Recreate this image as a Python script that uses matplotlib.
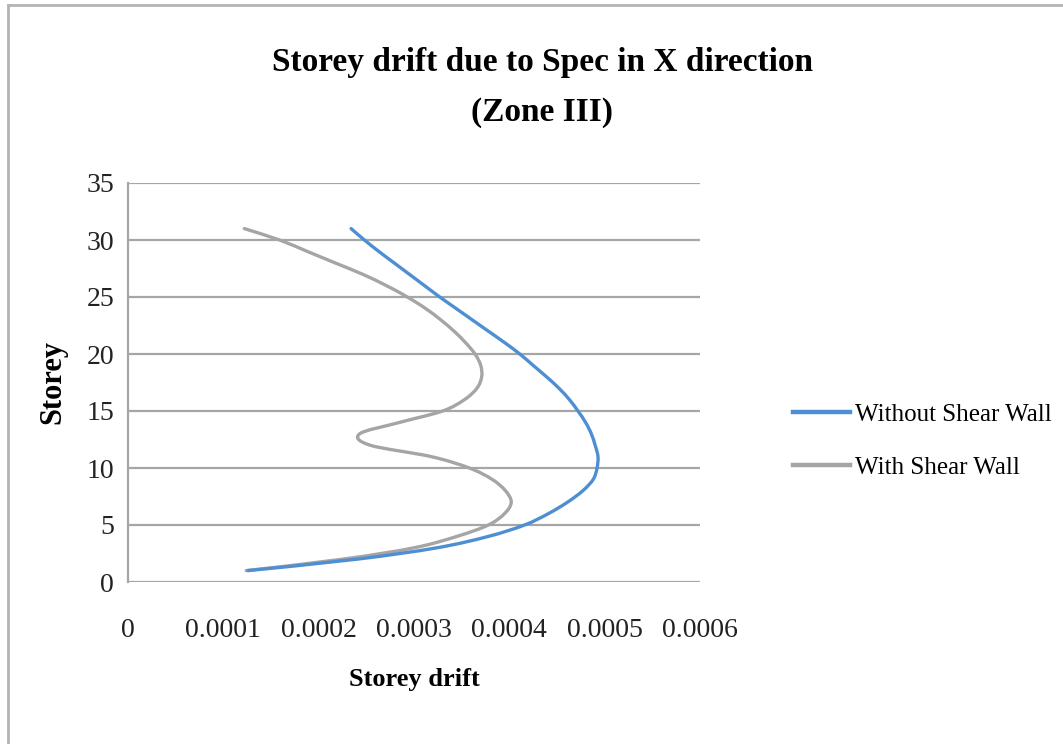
import numpy as np
import matplotlib
matplotlib.use("Agg")
import matplotlib.pyplot as plt
from matplotlib.path import Path
from matplotlib.patches import PathPatch
from matplotlib.lines import Line2D

plt.rcParams["font.family"] = ["Liberation Serif", "DejaVu Serif"]

storey = list(range(1, 32))
without_wall = [0.000126, 0.000240, 0.000324, 0.000378, 0.000416, 0.000441,
                0.000461, 0.000477, 0.000488, 0.000492, 0.000493, 0.000490,
                0.000486, 0.000480, 0.000472, 0.000463, 0.000452, 0.000439,
                0.000425, 0.000411, 0.000395, 0.000378, 0.000361, 0.000344,
                0.000327, 0.000311, 0.000295, 0.000279, 0.000263, 0.000248,
                0.000234]
with_wall = [0.000124, 0.000225, 0.000300, 0.000345, 0.000378, 0.000395,
             0.000402, 0.000396, 0.000382, 0.000358, 0.000318, 0.000254,
             0.000243, 0.000285, 0.000330, 0.000353, 0.000366, 0.000371,
             0.000370, 0.000364, 0.000354, 0.000342, 0.000328, 0.000312,
             0.000293, 0.000271, 0.000246, 0.000217, 0.000188, 0.000159,
             0.000122]
x_ticks = [0, 0.0001, 0.0002, 0.0003, 0.0004, 0.0005, 0.0006]
x_labels = ["0", "0.0001", "0.0002", "0.0003", "0.0004", "0.0005", "0.0006"]
y_ticks = [0, 5, 10, 15, 20, 25, 30, 35]

BLUE = "#4E8FD3"
GREY = "#A5A5A5"
GRID = "#A6A6A6"


def smooth_path(xs, ys):
    # Catmull-Rom segments as cubic Beziers, like a spreadsheet "smoothed line"
    pts = np.column_stack([xs, ys]).astype(float)
    n = len(pts)
    verts = [pts[0]]
    codes = [Path.MOVETO]
    for i in range(n - 1):
        p0 = pts[max(i - 1, 0)]
        p1, p2 = pts[i], pts[i + 1]
        p3 = pts[min(i + 2, n - 1)]
        c1 = p1 + (p2 - p0) / 6.0
        c2 = p2 - (p3 - p1) / 6.0
        verts += [c1, c2, p2]
        codes += [Path.CURVE4] * 3
    return Path(verts, codes)


fig = plt.figure(figsize=(10.63, 7.44), dpi=100)
ax = fig.add_axes([128 / 1063, 1 - 582 / 744, (700 - 128) / 1063, (582 - 183) / 744])

for xs, color in [(with_wall, GREY), (without_wall, BLUE)]:
    ax.add_patch(PathPatch(smooth_path(xs, storey), fc="none", ec=color,
                           lw=2.4, capstyle="round", zorder=3))

ax.set_xlim(0, 0.0006)
ax.set_ylim(0, 35)
ax.set_xticks(x_ticks)
ax.set_xticklabels(x_labels)
ax.set_yticks(y_ticks)
ax.yaxis.grid(True, color=GRID, lw=1.6)
ax.set_axisbelow(True)
ax.tick_params(length=0, labelsize=20, colors="#222222")
ax.tick_params(axis="x", pad=26)
ax.tick_params(axis="y", pad=10)
for side in ["top", "right", "bottom"]:
    ax.spines[side].set_visible(False)
ax.spines["left"].set_color(GRID)
ax.spines["left"].set_linewidth(1.6)

ax.set_xlabel("Storey drift", fontsize=19, fontweight="bold", labelpad=18)
ax.set_ylabel("Storey", fontsize=22, fontweight="bold", labelpad=14)

fig.text(542 / 1063, 1 - 62 / 744, "Storey drift due to Spec in X direction",
         ha="center", va="center", fontsize=24, fontweight="bold")
fig.text(542 / 1063, 1 - 112 / 744, "(Zone III)",
         ha="center", va="center", fontsize=24, fontweight="bold")

handles = [Line2D([], [], color=BLUE, lw=3.2),
           Line2D([], [], color=GREY, lw=3.2)]
fig.legend(handles, ["Without Shear Wall", "With Shear Wall"],
           loc="center left", bbox_to_anchor=(770 / 1063, 1 - 441 / 744),
           frameon=False, fontsize=18, handlelength=2.3, handletextpad=0.2,
           labelspacing=1.2)

# frame edges along the top and left of the chart area
fig.add_artist(Line2D([8 / 1063, 1], [1 - 5 / 744, 1 - 5 / 744],
                      color="#B4B4B4", lw=2))
fig.add_artist(Line2D([8 / 1063, 8 / 1063], [0, 1 - 5 / 744],
                      color="#B4B4B4", lw=2))

fig.savefig("out.png", dpi=100, facecolor="white")
